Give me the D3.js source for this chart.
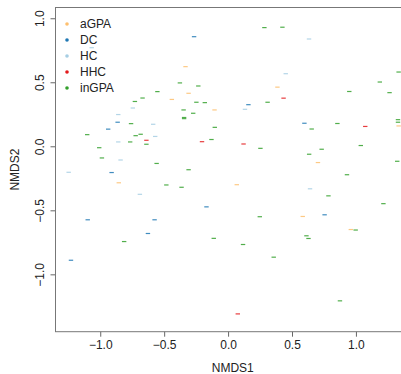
<!DOCTYPE html>
<html>
<head>
<meta charset="utf-8">
<script src="https://cdn.jsdelivr.net/npm/d3@7"></script>
<style>
  body { margin: 0; background: #fff; }
  text { font-family: "Liberation Sans", Arial, sans-serif; }
</style>
</head>
<body>
<script>
const groups = ["aGPA", "DC", "HC", "HHC", "inGPA"];
const colors = ["#FDBF6F", "#1F78B4", "#A6CEE3", "#E31A1C", "#33A02C"];

// NMDS scores per group, [NMDS1, NMDS2]
const aGPA = [[-0.333, 0.622], [-0.309, 0.414], [-0.440, 0.366], [-0.855, -0.285], [0.386, 0.462],
  [-0.106, 0.284], [1.334, 0.159], [0.703, -0.127], [0.068, -0.300], [0.584, -0.548], [0.960, -0.650]];
const DC = [[-0.266, 0.856], [-0.864, 0.188], [-0.938, 0.134], [-0.911, -0.205], [-1.098, -0.574],
  [-0.575, -0.574], [-0.627, -0.681], [-1.229, -0.890], [0.159, 0.325], [0.597, 0.180],
  [-0.169, -0.473], [0.755, -0.535]];
const HC = [[-0.745, 0.299], [-0.859, 0.248], [-0.586, 0.172], [-0.570, 0.077], [-0.859, 0.034],
  [-0.841, -0.107], [-1.247, -0.203], [-0.690, -0.375], [0.633, 0.838], [0.451, 0.567],
  [0.132, 0.289], [0.641, -0.332], [-1.067, 0.770]];
const HHC = [[-0.639, 0.047], [0.434, 0.376], [1.073, 0.155], [-0.204, 0.036], [0.121, 0.018],
  [0.076, -1.309]];
const inGPA = [[-0.377, 0.495], [-0.233, 0.471], [-0.553, 0.427], [-0.669, 0.377], [-0.248, 0.344],
  [-0.729, 0.350], [-0.348, 0.284], [-0.759, 0.177], [-0.273, 0.258], [-0.344, 0.225],
  [-0.344, 0.216], [-1.102, 0.091], [-0.723, 0.083], [-0.684, 0.094], [-0.766, 0.034],
  [-0.639, 0.016], [-1.008, -0.011], [-0.987, -0.091], [-0.559, -0.134], [-0.309, -0.183],
  [-0.483, -0.302], [-0.364, -0.320], [-0.813, -0.744], [0.284, 0.927], [0.425, 0.930],
  [1.334, 0.580], [1.187, 0.502], [0.948, 0.428], [1.263, 0.419], [-0.182, 0.341],
  [0.309, 0.344], [-0.104, 0.148], [0.654, 0.135], [0.855, 0.178], [1.329, 0.208],
  [1.329, 0.188], [-0.130, 0.053], [0.253, -0.016], [0.732, -0.023], [0.634, -0.062],
  [1.038, 0.006], [1.323, -0.117], [0.930, -0.222], [0.785, -0.387], [1.215, -0.448],
  [0.248, -0.550], [0.998, -0.654], [-0.112, -0.719], [0.117, -0.767], [0.613, -0.699],
  [0.629, -0.720], [0.357, -0.866], [0.875, -1.207]];

const xTicks = [-1, -0.5, 0, 0.5, 1];
const yTicks = [-1, -0.5, 0, 0.5, 1];

const width = 401;
const height = 374;
const m = {left: 55.5, top: 7.5, right: 410, bottom: 331.7};

const x = d3.scaleLinear().domain([-1.35, 1.423]).range([m.left, m.right]);
const y = d3.scaleLinear().domain([-1.448, 1.084]).range([m.bottom, m.top]);

const svg = d3.select("body").append("svg")
  .attr("width", width)
  .attr("height", height);

const fmt = d => (d < 0 ? "\u2212" : "") + Math.abs(d).toFixed(1);

// axes
const xAxis = svg.append("g")
  .attr("transform", `translate(0,${m.bottom})`)
  .call(d3.axisBottom(x).tickValues(xTicks).tickSize(5).tickPadding(4).tickFormat(fmt));
const yAxis = svg.append("g")
  .attr("transform", `translate(${m.left},0)`)
  .call(d3.axisLeft(y).tickValues(yTicks).tickSize(5).tickPadding(4).tickFormat(fmt));

[xAxis, yAxis].forEach(a => {
  a.select(".domain").remove();
  a.selectAll(".tick line").attr("stroke", "#666");
  a.selectAll(".tick text")
    .attr("fill", "#222")
    .style("font-family", "'Liberation Sans', Arial, sans-serif")
    .style("font-size", "12px");
});
// R style: y labels parallel to the axis
yAxis.selectAll(".tick text")
  .attr("x", null).attr("dy", null)
  .attr("text-anchor", "middle")
  .attr("transform", "translate(-12,0) rotate(-90)");

// box
svg.append("rect")
  .attr("x", m.left).attr("y", m.top)
  .attr("width", m.right - m.left).attr("height", m.bottom - m.top)
  .attr("fill", "none")
  .attr("stroke", "#777")
  .attr("stroke-width", 1);

// axis titles
svg.append("text")
  .attr("x", (m.left + m.right) / 2).attr("y", 372)
  .attr("text-anchor", "middle")
  .style("font-size", "12px").attr("fill", "#222")
  .text("NMDS1");
svg.append("text")
  .attr("transform", `translate(19,${(m.top + m.bottom) / 2}) rotate(-90)`)
  .attr("text-anchor", "middle")
  .style("font-size", "12px").attr("fill", "#222")
  .text("NMDS2");

// points drawn as short dashes
const series = [aGPA, DC, HC, HHC, inGPA];
const pts = svg.append("g");
series.forEach((s, i) => {
  pts.selectAll(null)
    .data(s)
    .enter().append("line")
    .attr("x1", d => x(d[0]) - 2.2)
    .attr("x2", d => x(d[0]) + 2.2)
    .attr("y1", d => y(d[1]))
    .attr("y2", d => y(d[1]))
    .attr("stroke", colors[i])
    .attr("stroke-opacity", 0.85)
    .attr("stroke-width", 1.2);
});

// legend
const legend = svg.append("g");
groups.forEach((g, i) => {
  const ly = 24 + i * 16;
  legend.append("circle")
    .attr("cx", 67).attr("cy", ly).attr("r", 1.8)
    .attr("fill", colors[i]);
  legend.append("text")
    .attr("x", 80).attr("y", ly)
    .attr("dy", "0.35em")
    .style("font-size", "12px").attr("fill", "#222")
    .text(g);
});
</script>
</body>
</html>
